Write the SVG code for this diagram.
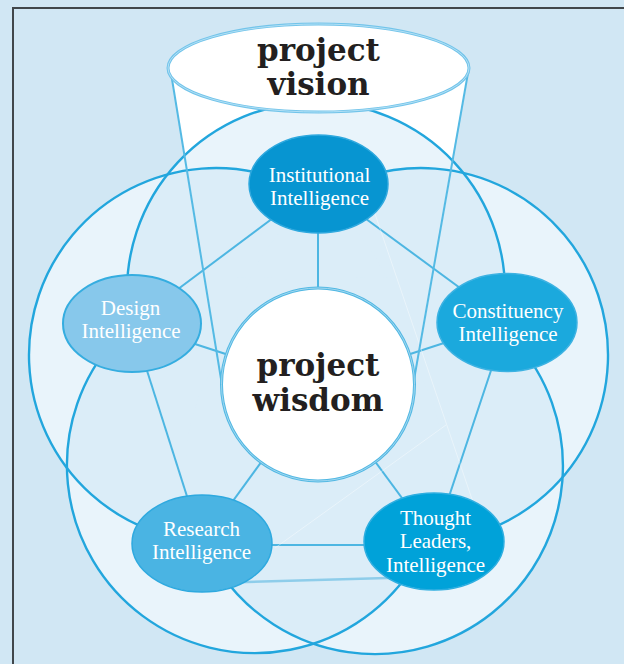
<svg xmlns="http://www.w3.org/2000/svg" width="624" height="664" viewBox="0 0 624 664">
<style>
.bg{fill:#d1e7f4}
.band{fill:#e9f4fb}
.inner{fill:#dbedf8}
.arc{fill:none;stroke:#22a6dd;stroke-width:2.4}
.con{stroke:#4db6e2;stroke-width:2;fill:none}
.faint{stroke:#ffffff;stroke-width:0.8;stroke-opacity:0.5;fill:none}
.cone{stroke:#55bae4;stroke-width:2;fill:none}
.lbl{font-family:"Liberation Serif","DejaVu Serif",serif;font-size:21px;fill:#ffffff;text-anchor:middle}
.big{font-family:"DejaVu Serif","Liberation Serif",serif;font-weight:bold;font-size:31px;fill:#231f20;text-anchor:middle}
</style>
<defs>
<clipPath id="cT"><circle cx="316" cy="292" r="189"/></clipPath>
<clipPath id="cL"><circle cx="216" cy="355" r="187"/></clipPath>
<clipPath id="cR"><circle cx="421" cy="355" r="187"/></clipPath>
<clipPath id="cBL"><circle cx="255" cy="465" r="188"/></clipPath>
<clipPath id="cBR"><circle cx="374" cy="465" r="188"/></clipPath>
</defs>
<rect class="bg" x="0" y="0" width="624" height="664"/>
<path d="M13 664 V8 H624" fill="none" stroke="#41474b" stroke-width="2"/>
<g id="cone-fill">
<polygon points="170.5,70 222.5,388 412.5,388 468.5,70" fill="#ffffff"/>
</g>
<g id="rings">
<circle class="band" cx="316" cy="292" r="189"/>
<circle class="band" cx="216" cy="355" r="187"/>
<circle class="band" cx="421" cy="355" r="187"/>
<circle class="band" cx="255" cy="465" r="188"/>
<circle class="band" cx="374" cy="465" r="188"/>
<circle class="inner" cx="316" cy="292" r="189" clip-path="url(#cL)"/>
<circle class="inner" cx="316" cy="292" r="189" clip-path="url(#cR)"/>
<circle class="inner" cx="316" cy="292" r="189" clip-path="url(#cBL)"/>
<circle class="inner" cx="316" cy="292" r="189" clip-path="url(#cBR)"/>
<circle class="inner" cx="216" cy="355" r="187" clip-path="url(#cR)"/>
<circle class="inner" cx="216" cy="355" r="187" clip-path="url(#cBL)"/>
<circle class="inner" cx="216" cy="355" r="187" clip-path="url(#cBR)"/>
<circle class="inner" cx="421" cy="355" r="187" clip-path="url(#cBL)"/>
<circle class="inner" cx="421" cy="355" r="187" clip-path="url(#cBR)"/>
<circle class="inner" cx="255" cy="465" r="188" clip-path="url(#cBR)"/>
<path class="arc" d="M127.5 305 A189 189 0 1 1 504.5 305"/>
<path class="arc" d="M150 530 A187 187 0 0 1 270 176"/>
<path class="arc" d="M367 176 A187 187 0 0 1 487 530"/>
<path class="arc" d="M114.6 340 A188 188 0 1 0 415 563.7"/>
<path class="arc" d="M514.4 340 A188 188 0 1 1 221 574"/>
</g>
<g id="connectors">
<line class="con" x1="318" y1="184" x2="318" y2="384"/>
<line class="con" x1="318.5" y1="184" x2="132" y2="323.5"/>
<line class="con" x1="318.5" y1="184" x2="507" y2="322.5"/>
<line class="con" x1="132" y1="323.5" x2="318" y2="384"/>
<line class="con" x1="507" y1="322.5" x2="318" y2="384"/>
<line class="con" x1="132" y1="323.5" x2="202" y2="543.5"/>
<line class="con" x1="507" y1="322.5" x2="434" y2="541.5"/>
<line class="con" x1="318" y1="384" x2="202" y2="543.5"/>
<line class="con" x1="318" y1="384" x2="434" y2="541.5"/>
<line class="con" x1="202" y1="545" x2="434" y2="545"/>
<line x1="230" y1="582.5" x2="405" y2="577.5" stroke="#8ecdea" stroke-width="2.5"/>
<line class="faint" x1="372" y1="205" x2="474" y2="505"/>
<line class="faint" x1="275" y1="548" x2="446" y2="425"/>
<line class="cone" x1="170.5" y1="70" x2="222.8" y2="390"/>
<line class="cone" x1="468.5" y1="70" x2="412.2" y2="390"/>
</g>
<g id="vision">
<ellipse cx="318.5" cy="68" rx="150.5" ry="44" fill="#ffffff" stroke="#72c4ea" stroke-width="3"/>
<ellipse cx="318.5" cy="68" rx="150.5" ry="44" fill="none" stroke="#c4e7f7" stroke-width="0.8"/>
<text class="big" x="318.5" y="61">project</text>
<text class="big" x="318.5" y="95">vision</text>
</g>
<g id="wisdom">
<circle cx="318" cy="384.5" r="96.5" fill="#ffffff" stroke="#52b8e3" stroke-width="3"/>
<circle cx="318" cy="384.5" r="96.5" fill="none" stroke="#b5e0f4" stroke-width="0.8"/>
<text class="big" x="318" y="376">project</text>
<text class="big" x="318" y="411">wisdom</text>
</g>
<g id="institutional">
<ellipse cx="318.5" cy="184" rx="69.5" ry="49" fill="#0795d1" stroke="#2ea8de" stroke-width="1.5"/>
<text class="lbl" x="319.5" y="182">Institutional</text>
<text class="lbl" x="319.5" y="204.5">Intelligence</text>
</g>
<g id="design">
<ellipse cx="132" cy="323.5" rx="69" ry="48.5" fill="#87c8eb" stroke="#35ade0" stroke-width="2"/>
<text class="lbl" x="130.5" y="314.5">Design</text>
<text class="lbl" x="131" y="338">Intelligence</text>
</g>
<g id="constituency">
<ellipse cx="507" cy="322.5" rx="70" ry="49" fill="#1ba9dd" stroke="#3cb2e2" stroke-width="1.5"/>
<text class="lbl" x="508" y="318">Constituency</text>
<text class="lbl" x="508" y="341">Intelligence</text>
</g>
<g id="research">
<ellipse cx="202" cy="543.5" rx="70" ry="48.5" fill="#4ab4e3" stroke="#2ea9df" stroke-width="1.5"/>
<text class="lbl" x="201.5" y="536">Research</text>
<text class="lbl" x="201.5" y="559">Intelligence</text>
</g>
<g id="thought">
<ellipse cx="434" cy="541.5" rx="70" ry="48.5" fill="#00a2d9" stroke="#2eaee0" stroke-width="1.5"/>
<text class="lbl" x="435.5" y="525">Thought</text>
<text class="lbl" x="435.5" y="548">Leaders,</text>
<text class="lbl" x="435.5" y="572">Intelligence</text>
</g>
</svg>
